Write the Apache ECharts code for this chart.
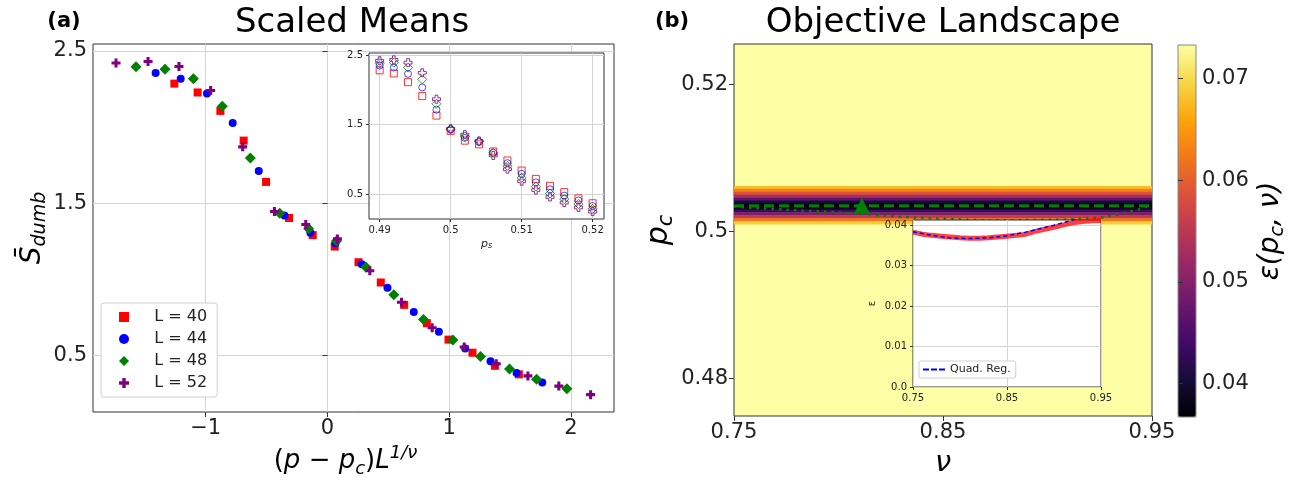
<!DOCTYPE html>
<html>
<head>
<meta charset="utf-8">
<script src="https://cdn.jsdelivr.net/npm/echarts@6/dist/echarts.min.js"></script>
<style>
html, body { margin: 0; padding: 0; background: #fff; }
#chart { width: 1290px; height: 483px; }
</style>
</head>
<body>
<div id="chart"></div>
<script>
// ---- data: (a) scaled means, main panel ----
var x40 = [-1.257, -1.066, -0.879, -0.688, -0.504, -0.315, -0.121, 0.06, 0.255, 0.438, 0.63, 0.816, 0.994, 1.191, 1.375, 1.572];
var y40 = [2.285, 2.227, 2.106, 1.911, 1.64, 1.403, 1.291, 1.216, 1.113, 0.98, 0.833, 0.713, 0.605, 0.519, 0.433, 0.377];
var x44 = [-1.411, -1.205, -0.989, -0.778, -0.564, -0.353, -0.14, 0.066, 0.282, 0.493, 0.709, 0.915, 1.131, 1.339, 1.553, 1.764];
var y44 = [2.354, 2.317, 2.22, 2.027, 1.711, 1.42, 1.306, 1.237, 1.1, 0.945, 0.786, 0.657, 0.547, 0.463, 0.386, 0.324];
var x48 = [-1.572, -1.334, -1.101, -0.863, -0.633, -0.392, -0.154, 0.074, 0.315, 0.545, 0.789, 1.03, 1.257, 1.495, 1.717, 1.966];
var y48 = [2.395, 2.38, 2.317, 2.137, 1.797, 1.435, 1.332, 1.253, 1.081, 0.9, 0.737, 0.603, 0.494, 0.412, 0.345, 0.283];
var x52 = [-1.736, -1.473, -1.219, -0.959, -0.696, -0.435, -0.178, 0.082, 0.348, 0.608, 0.86, 1.123, 1.386, 1.646, 1.9, 2.161];
var y52 = [2.42, 2.43, 2.397, 2.24, 1.87, 1.446, 1.36, 1.266, 1.057, 0.85, 0.683, 0.556, 0.446, 0.367, 0.3, 0.244];

// ---- data: (a) inset, unscaled means vs p_s ----
var psValues = [0.49, 0.492, 0.494, 0.496, 0.498, 0.5, 0.502, 0.504, 0.506, 0.508, 0.51, 0.512, 0.514, 0.516, 0.518, 0.52];
var in40 = [2.28, 2.235, 2.11, 1.91, 1.63, 1.41, 1.27, 1.216, 1.115, 0.985, 0.84, 0.72, 0.62, 0.53, 0.44, 0.37];
var in44 = [2.35, 2.32, 2.23, 2.035, 1.715, 1.43, 1.31, 1.25, 1.096, 0.946, 0.793, 0.67, 0.57, 0.48, 0.41, 0.33];
var in48 = [2.38, 2.39, 2.32, 2.15, 1.80, 1.435, 1.33, 1.26, 1.096, 0.908, 0.735, 0.61, 0.51, 0.43, 0.36, 0.29];
var in52 = [2.418, 2.43, 2.39, 2.245, 1.865, 1.44, 1.356, 1.265, 1.057, 0.859, 0.686, 0.56, 0.46, 0.38, 0.31, 0.25];

// ---- data: (b) objective landscape ----
// rows of the dark band (p_c) and their epsilon; everything else is at the top of the scale
var bandPc = [0.5060, 0.5056, 0.5052, 0.5048, 0.5044, 0.5040, 0.5036, 0.5032, 0.5028, 0.5024, 0.5020, 0.5016, 0.5012];
var bandEps = [0.0678, 0.0631, 0.0587, 0.0532, 0.0469, 0.0404, 0.0371, 0.0385, 0.0433, 0.0495, 0.0557, 0.0623, 0.0689];
var bandStep = 0.0004;
var pcBest = 0.50351;
var nuBest = 0.8112;
var ridgeNu = [0.75, 0.77, 0.79, 0.81, 0.83, 0.87, 0.91, 0.9275, 0.936, 0.943, 0.95];
var ridgePc = [0.50338, 0.50303, 0.50274, 0.50243, 0.50198, 0.5015, 0.5016, 0.50195, 0.50249, 0.50293, 0.50361];

// inset: minimum epsilon along nu, and the quadratic regression
var nuGrid = [0.75, 0.76, 0.77, 0.78, 0.79, 0.80, 0.81, 0.82, 0.83, 0.84, 0.85, 0.86, 0.87, 0.88, 0.89, 0.90, 0.91, 0.92, 0.93, 0.94, 0.95];
var epsMin = [0.0383, 0.0378, 0.0375, 0.0373, 0.0371, 0.0369, 0.0368, 0.0368, 0.0369, 0.0371, 0.0373, 0.0375, 0.0378, 0.0385, 0.0390, 0.0395, 0.0401, 0.0406, 0.0409, 0.0411, 0.0412];
var quadNu = [0.75, 0.77, 0.79, 0.81, 0.83, 0.85, 0.87, 0.90, 0.92, 0.93];
var quadEps = [0.0384, 0.0375, 0.03685, 0.0367, 0.0369, 0.0374, 0.0383, 0.0400, 0.0413, 0.0422];

var inferno = ['#000004', '#160b39', '#420a68', '#6a176e', '#932667', '#bc3754', '#dd513a', '#f37819', '#fca50a', '#f6d746', '#fcffa4'];

var FONT = 'DejaVu Sans';
var plusPath = 'path://M3.3,0H6.7V3.3H10V6.7H6.7V10H3.3V6.7H0V3.3H3.3Z';
var dashIcon = 'path://M0,4H6V6H0Z M8,4H14V6H8Z M16,4H22V6H16Z';

function zip(a, b) {
    return a.map(function (v, i) { return [v, b[i]]; });
}

function axisLabel(values, size, fmt) {
    return {
        customValues: values, fontSize: size, fontFamily: FONT, color: '#222', margin: 6,
        formatter: fmt || function (v) { return String(v); }
    };
}

function axisTick(values, len) {
    return { show: true, customValues: values, length: len, lineStyle: { color: '#333', width: 1 } };
}

var gridLine = { show: true, lineStyle: { color: '#d4d4d4', width: 1 } };
var noLine = { show: false };

var chart = echarts.init(document.getElementById('chart'));

chart.setOption({
    animation: false,
    backgroundColor: '#fff',
    textStyle: { fontFamily: FONT },
    grid: [
        { left: 93, top: 44, width: 521, height: 375, show: true, borderColor: '#333', borderWidth: 1, backgroundColor: '#fff' },
        { left: 369, top: 53, width: 235, height: 166, show: true, borderColor: '#333', borderWidth: 1, backgroundColor: '#fff', z: 3 },
        { left: 734, top: 44, width: 418, height: 374, show: true, borderColor: '#333', borderWidth: 1, backgroundColor: '#fcffa4' },
        { left: 913, top: 220, width: 188, height: 167, show: true, borderColor: '#333', borderWidth: 1, backgroundColor: '#fff', z: 5 },
        { left: 1178, top: 45, width: 18, height: 372, show: true, borderColor: '#888', borderWidth: 1, backgroundColor: 'transparent', z: 10 }
    ],
    xAxis: [
        {
            gridIndex: 0, type: 'value', min: -1.925, max: 2.353,
            axisLine: noLine, splitLine: gridLine,
            axisTick: axisTick([-1, 0, 1, 2], 5),
            axisLabel: axisLabel([-1, 0, 1, 2], 21, function (v) { return v < 0 ? '\u2212' + Math.abs(v) : String(v); }),
            name: '{n|(}{i|p}{n| \u2212 }{i|p}{sub|c}{n|)}{i|L}{sup|1/\u03bd}',
            nameLocation: 'middle', nameGap: 32,
            nameTextStyle: {
                padding: [0, 16, 0, 0],
                rich: {
                    n: { fontSize: 26, fontFamily: FONT, color: '#000', lineHeight: 34 },
                    i: { fontSize: 26, fontFamily: FONT, fontStyle: 'italic', color: '#000', lineHeight: 34 },
                    sub: { fontSize: 18, fontFamily: FONT, fontStyle: 'italic', color: '#000', verticalAlign: 'bottom', lineHeight: 22 },
                    sup: { fontSize: 18, fontFamily: FONT, fontStyle: 'italic', color: '#000', verticalAlign: 'top', lineHeight: 20 }
                }
            }
        },
        {
            gridIndex: 1, type: 'value', min: 0.4885, max: 0.5216, z: 3,
            axisLine: noLine, splitLine: gridLine,
            axisTick: axisTick([0.49, 0.5, 0.51, 0.52], 3),
            axisLabel: axisLabel([0.49, 0.5, 0.51, 0.52], 10),
            name: '{i|p}{sub|s}', nameLocation: 'middle', nameGap: 20,
            nameTextStyle: {
                rich: {
                    i: { fontSize: 11, fontFamily: FONT, fontStyle: 'italic', color: '#222' },
                    sub: { fontSize: 8, fontFamily: FONT, fontStyle: 'italic', color: '#222', verticalAlign: 'bottom' }
                }
            }
        },
        {
            gridIndex: 2, type: 'value', min: 0.75, max: 0.95,
            axisLine: noLine, splitLine: noLine,
            axisTick: axisTick([0.75, 0.85, 0.95], 5),
            axisLabel: axisLabel([0.75, 0.85, 0.95], 21),
            name: '\u03bd', nameLocation: 'middle', nameGap: 33,
            nameTextStyle: { fontSize: 29, fontFamily: FONT, fontStyle: 'italic', color: '#000' }
        },
        {
            gridIndex: 3, type: 'value', min: 0.75, max: 0.95, z: 5,
            axisLine: noLine, splitLine: gridLine,
            axisTick: axisTick([0.75, 0.85, 0.95], 3),
            axisLabel: axisLabel([0.75, 0.85, 0.95], 10)
        },
        { gridIndex: 4, type: 'value', min: 0, max: 1, show: false }
    ],
    yAxis: [
        {
            gridIndex: 0, type: 'value', min: 0.13, max: 2.545,
            axisLine: noLine, splitLine: gridLine,
            axisTick: axisTick([0.5, 1.5, 2.5], 5),
            axisLabel: axisLabel([0.5, 1.5, 2.5], 21, function (v) { return v.toFixed(1); }),
            name: '{b|S\u0304}{sub|dumb}', nameLocation: 'middle', nameGap: 42, nameRotate: 90,
            nameTextStyle: {
                rich: {
                    b: { fontSize: 28, fontFamily: FONT, fontStyle: 'italic', color: '#000', lineHeight: 34 },
                    sub: { fontSize: 19, fontFamily: FONT, fontStyle: 'italic', color: '#000', verticalAlign: 'bottom', lineHeight: 22 }
                }
            }
        },
        {
            gridIndex: 1, type: 'value', min: 0.144, max: 2.529, z: 3,
            axisLine: noLine, splitLine: gridLine,
            axisTick: axisTick([0.5, 1.5, 2.5], 3),
            axisLabel: axisLabel([0.5, 1.5, 2.5], 10, function (v) { return v.toFixed(1); })
        },
        {
            gridIndex: 2, type: 'value', min: 0.4749, max: 0.5255,
            axisLine: noLine, splitLine: noLine,
            axisTick: axisTick([0.48, 0.5, 0.52], 5),
            axisLabel: axisLabel([0.48, 0.5, 0.52], 21),
            name: '{i|p}{sub|c}', nameLocation: 'middle', nameGap: 46, nameRotate: 90,
            nameTextStyle: {
                rich: {
                    i: { fontSize: 30, fontFamily: FONT, fontStyle: 'italic', color: '#000', lineHeight: 36 },
                    sub: { fontSize: 21, fontFamily: FONT, fontStyle: 'italic', color: '#000', verticalAlign: 'bottom', lineHeight: 24 }
                }
            }
        },
        {
            gridIndex: 3, type: 'value', min: 0, max: 0.0413, z: 5,
            axisLine: noLine, splitLine: gridLine,
            axisTick: axisTick([0, 0.01, 0.02, 0.03, 0.04], 3),
            axisLabel: axisLabel([0, 0.01, 0.02, 0.03, 0.04], 10, function (v) { return v === 0 ? '0.0' : String(v); }),
            name: '\u03b5', nameLocation: 'middle', nameGap: 36, nameRotate: 90,
            nameTextStyle: { fontSize: 10, fontFamily: FONT, color: '#222' }
        },
        {
            gridIndex: 4, type: 'value', position: 'right', min: 0.0367, max: 0.0733, z: 10,
            axisLine: noLine, splitLine: noLine,
            axisTick: axisTick([0.04, 0.05, 0.06, 0.07], 5),
            axisLabel: axisLabel([0.04, 0.05, 0.06, 0.07], 21),
            name: '{i|\u03b5(p}{sub|c}{i|, \u03bd)}', nameLocation: 'middle', nameGap: 58, nameRotate: 90,
            nameTextStyle: {
                rich: {
                    i: { fontSize: 28, fontFamily: FONT, fontStyle: 'italic', color: '#000', lineHeight: 34 },
                    sub: { fontSize: 19, fontFamily: FONT, fontStyle: 'italic', color: '#000', verticalAlign: 'bottom', lineHeight: 22 }
                }
            }
        }
    ],
    visualMap: {
        type: 'continuous', min: 0.0367, max: 0.0733, dimension: 1, seriesIndex: 8,
        left: 1178, top: 45, itemWidth: 18, itemHeight: 372, padding: 0,
        calculable: false, text: null, showLabel: false, hoverLink: false,
        inRange: { color: inferno }
    },
    legend: [
        {
            data: ['L = 40', 'L = 44', 'L = 48', 'L = 52'],
            orient: 'vertical', left: 101, top: 303, padding: [6, 10, 6, 18],
            itemWidth: 10, itemHeight: 10, itemGap: 6,
            formatter: function (name) { return '    ' + name; },
            backgroundColor: '#fff', borderColor: '#d0d0d0', borderWidth: 1, borderRadius: 3,
            textStyle: { fontSize: 16, fontFamily: FONT, color: '#222' }
        },
        {
            data: [{ name: 'Quad. Reg.', icon: dashIcon }], left: 919, top: 361, z: 8,
            padding: [3, 5, 3, 4], itemWidth: 22, itemHeight: 10,
            backgroundColor: '#fff', borderColor: '#d0d0d0', borderWidth: 1, borderRadius: 2,
            textStyle: { fontSize: 11, fontFamily: FONT, color: '#222' }
        }
    ],
    graphic: [
        { type: 'text', x: 352, y: 23, style: { text: 'Scaled Means', fontSize: 34, fontFamily: FONT, fill: '#000', align: 'center', verticalAlign: 'middle' } },
        { type: 'text', x: 943, y: 23, style: { text: 'Objective Landscape', fontSize: 34, fontFamily: FONT, fill: '#000', align: 'center', verticalAlign: 'middle' } },
        { type: 'text', x: 64, y: 22, style: { text: '(a)', fontSize: 21, fontWeight: 'bold', fontFamily: FONT, fill: '#000', align: 'center', verticalAlign: 'middle' } },
        { type: 'text', x: 672, y: 22, style: { text: '(b)', fontSize: 21, fontWeight: 'bold', fontFamily: FONT, fill: '#000', align: 'center', verticalAlign: 'middle' } }
    ],
    series: [
        // (a) main
        { name: 'L = 40', type: 'scatter', xAxisIndex: 0, yAxisIndex: 0, symbol: 'rect', symbolSize: 8, itemStyle: { color: '#ff0000', opacity: 1 }, data: zip(x40, y40) },
        { name: 'L = 44', type: 'scatter', xAxisIndex: 0, yAxisIndex: 0, symbol: 'circle', symbolSize: 8, itemStyle: { color: '#0000ff', opacity: 1 }, data: zip(x44, y44) },
        { name: 'L = 48', type: 'scatter', xAxisIndex: 0, yAxisIndex: 0, symbol: 'diamond', symbolSize: 11, itemStyle: { color: '#008000', opacity: 1 }, data: zip(x48, y48) },
        { name: 'L = 52', type: 'scatter', xAxisIndex: 0, yAxisIndex: 0, symbol: plusPath, symbolSize: 9, itemStyle: { color: '#800080', opacity: 1 }, data: zip(x52, y52) },
        // (a) inset, hollow markers
        { name: 'in40', type: 'scatter', xAxisIndex: 1, yAxisIndex: 1, z: 4, symbol: 'rect', symbolSize: 7, itemStyle: { color: 'rgba(0,0,0,0)', borderColor: 'rgba(255,0,0,0.8)', borderWidth: 1, opacity: 1 }, data: zip(psValues, in40) },
        { name: 'in44', type: 'scatter', xAxisIndex: 1, yAxisIndex: 1, z: 4, symbol: 'circle', symbolSize: 7, itemStyle: { color: 'rgba(0,0,0,0)', borderColor: 'rgba(0,0,255,0.7)', borderWidth: 1, opacity: 1 }, data: zip(psValues, in44) },
        { name: 'in48', type: 'scatter', xAxisIndex: 1, yAxisIndex: 1, z: 4, symbol: 'diamond', symbolSize: 9, itemStyle: { color: 'rgba(0,0,0,0)', borderColor: 'rgba(0,128,0,0.8)', borderWidth: 1, opacity: 1 }, data: zip(psValues, in48) },
        { name: 'in52', type: 'scatter', xAxisIndex: 1, yAxisIndex: 1, z: 4, symbol: plusPath, symbolSize: 8, itemStyle: { color: 'rgba(0,0,0,0)', borderColor: 'rgba(128,0,128,0.8)', borderWidth: 1, opacity: 1 }, data: zip(psValues, in52) },
        // (b) band of the landscape
        {
            name: 'landscape', type: 'custom', xAxisIndex: 2, yAxisIndex: 2, z: 2,
            data: zip(bandPc, bandEps),
            renderItem: function (params, api) {
                var pc = api.value(0);
                var a = api.coord([0.75, pc + bandStep / 2]);
                var b = api.coord([0.95, pc - bandStep / 2]);
                return {
                    type: 'rect',
                    shape: { x: a[0], y: a[1], width: b[0] - a[0], height: b[1] - a[1] + 0.5 },
                    style: { fill: api.visual('color') }
                };
            }
        },
        {
            name: 'ridge', type: 'line', xAxisIndex: 2, yAxisIndex: 2, z: 3, symbol: 'none',
            lineStyle: { color: '#008000', width: 2.5, type: [2.5, 5] },
            data: zip(ridgeNu, ridgePc)
        },
        {
            name: 'best pc', type: 'line', xAxisIndex: 2, yAxisIndex: 2, z: 3, symbol: 'none',
            lineStyle: { color: '#008000', width: 3, type: [10, 5] },
            data: [[0.75, pcBest], [0.95, pcBest]]
        },
        {
            name: 'best', type: 'scatter', xAxisIndex: 2, yAxisIndex: 2, z: 4, symbol: 'triangle', symbolSize: 16,
            itemStyle: { color: '#008000', opacity: 1 }, data: [[nuBest, pcBest]]
        },
        // (b) inset
        {
            name: 'min eps', type: 'line', xAxisIndex: 3, yAxisIndex: 3, z: 6, symbol: 'none',
            lineStyle: { color: 'rgba(255,0,0,0.75)', width: 5 },
            data: zip(nuGrid, epsMin)
        },
        {
            name: 'Quad. Reg.', type: 'line', xAxisIndex: 3, yAxisIndex: 3, z: 7, symbol: 'none', clip: true,
            itemStyle: { color: '#0000ff' },
            lineStyle: { color: '#0000ff', width: 1.5, type: [4, 3] },
            data: zip(quadNu, quadEps)
        }
    ]
});
</script>
</body>
</html>
